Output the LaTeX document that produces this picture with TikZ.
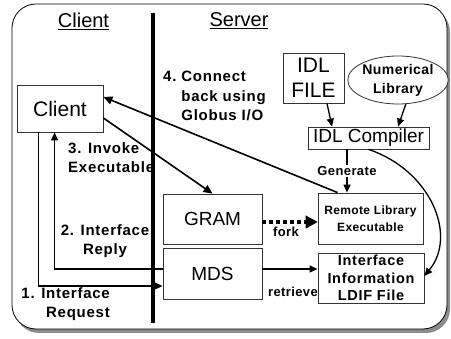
\documentclass[tikz,border=0pt]{standalone}
\usepackage{fontspec}
\setmainfont{Liberation Sans}
\newfontfamily\spfont[LetterSpace=5]{Liberation Sans}
\newfontfamily\spsfont[LetterSpace=3]{Liberation Sans}
\usetikzlibrary{arrows.meta,shapes.geometric,calc}
\begin{document}
\begin{tikzpicture}[x=1pt,y=-1pt,
  box/.style={draw=black!80,line width=0.8pt,fill=white,inner sep=0pt,font=\fontsize{19}{22}\selectfont,align=center},
  conn/.style={line width=1.6pt,-{Triangle[length=9pt,width=8pt]}},
  thinconn/.style={line width=1.3pt,-{Triangle[length=8pt,width=7pt]}},
  lbl/.style={font=\spfont\fontsize{15}{19.5}\selectfont\bfseries,inner sep=0pt},
  small/.style={font=\spsfont\fontsize{13}{15}\selectfont\bfseries,inner sep=0pt},
  head/.style={font=\fontsize{20}{24}\selectfont,inner sep=0pt}]
\useasboundingbox (0,0) rectangle (451,339);
% frame with shadow
\fill[black!45,rounded corners=24pt] (15,8) rectangle (450,333);
\draw[fill=white,line width=0.8pt,rounded corners=24pt] (12,4) rectangle (447,329);
% divider
\draw[line width=4pt] (153,13) -- (153,323);
% headings
\node[head] (hc) at (83.5,21) {\underline{Client}};
\node[head] (hs) at (239,21) {\underline{Server}};
% boxes
\node[box,minimum width=86pt,minimum height=47pt,font=\fontsize{21}{24}\selectfont] (client) at (60,108.5) {Client};
\node[box,minimum width=99pt,minimum height=50pt] (gram) at (212.5,219) {GRAM};
\node[box,minimum width=99pt,minimum height=51pt] (mds) at (212.5,273.5) {MDS};
\node[box,minimum width=105pt,minimum height=51pt,font=\spsfont\fontsize{12}{17}\selectfont\bfseries] (remote) at (370.5,218.5) {Remote Library\\Executable};
\node[box,minimum width=106pt,minimum height=50pt,font=\spfont\fontsize{14.5}{17.5}\selectfont\bfseries] (ldif) at (371,278) {Interface\\Information\\LDIF File};
\node[box,minimum width=61pt,minimum height=50pt,font=\fontsize{21}{25}\selectfont] (idl) at (313.5,78) {IDL\\FILE};
\node[box,ellipse,minimum width=76pt,minimum height=48pt,font=\spsfont\fontsize{14}{19}\selectfont\bfseries] (num) at (398,80) {Numerical\\Library};
\node[box,minimum width=121pt,minimum height=22pt] (comp) at (368.5,138) {IDL Compiler};
% labels
\node[lbl,anchor=north west] (l4) at (163,68) {\begin{tabular}{@{}l@{}l@{}}4.~~& Connect\\ & back using\\ & Globus I/O\end{tabular}};
\node[lbl,anchor=north west,align=left] (l3) at (68,142) {3. Invoke\\Executable};
\node[lbl,align=center] (l2) at (105,241) {2. Interface\\Reply};
\node[lbl,align=right,anchor=east] (l1) at (110,304) {1. Interface\\Request};
\node[small] (lfork) at (286,232) {fork};
\node[small] (lret) at (293,292) {retrieve};
% connectors
\draw[conn] ([xshift=20pt]remote.north west) -- ([yshift=11.5pt]client.east);
\draw[conn] ([yshift=-9.5pt]client.east) -- (gram.north);
\draw[thinconn] ([xshift=22pt]client.south west) |- ([yshift=-12.5pt]mds.west);
\draw[thinconn] ([yshift=4.5pt]mds.west) -| ([xshift=38pt]client.south west);
\draw[thinconn] ([yshift=4.5pt]mds.east) -- ([yshift=4.5pt]mds.east -| ldif.west);
\draw[line width=4pt,dash pattern=on 4pt off 3pt] ([yshift=-3pt]gram.east) -- ([yshift=-3pt,xshift=-10pt]gram.east -| remote.west) coordinate (dend);
\draw[-{Triangle[length=12pt,width=13pt]},line width=1pt] (dend) -- ([yshift=-3pt]gram.east -| remote.west);
\draw[thinconn] ([xshift=13.5pt]idl.south) -- ([xshift=-36.5pt]comp.north);
\draw[thinconn] (num.-72) -- ([xshift=29.5pt]comp.north);
\draw[thinconn] ([xshift=-21.5pt]comp.south) -- ([xshift=-21.5pt]comp.south |- remote.north) node[midway,small,fill=white,inner sep=1.5pt] (lgen) {Generate};
\draw[thinconn] (comp.south) .. controls (430,170) and (458,235) .. ([yshift=2pt]ldif.east);
\end{tikzpicture}
\end{document}
